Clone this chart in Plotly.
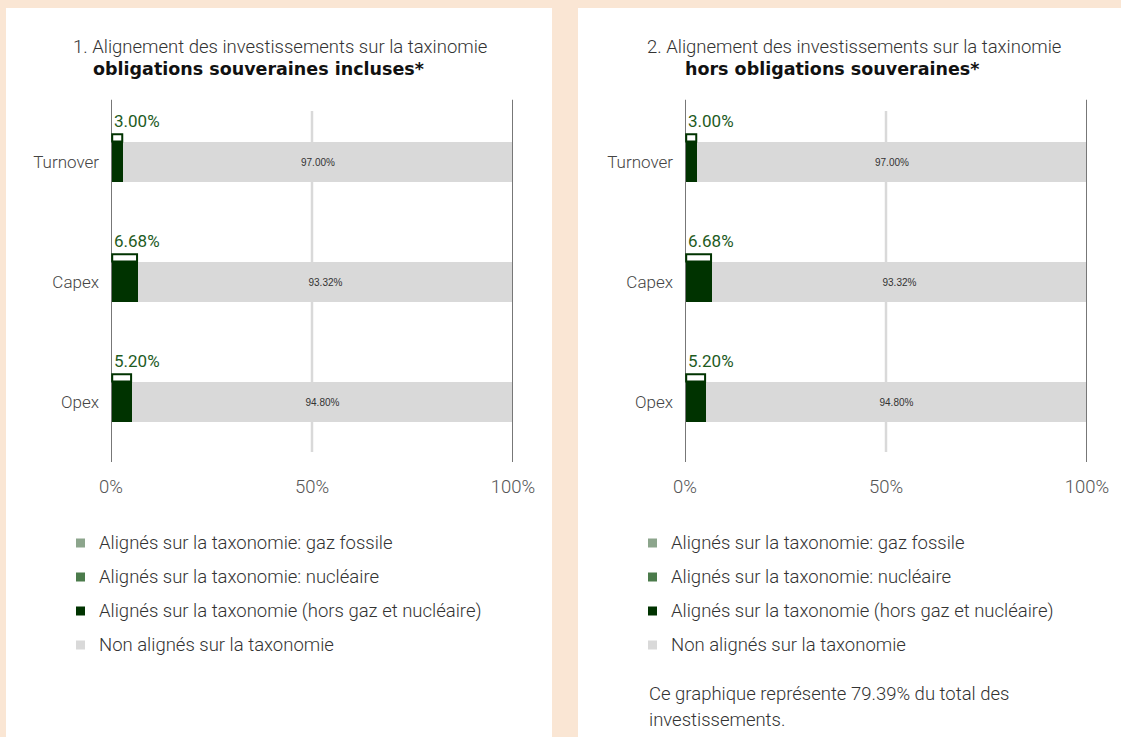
import plotly.graph_objects as go

# ---------------- data ----------------
categories = ["Turnover", "Capex", "Opex"]
gas_aligned = [0.0, 0.0, 0.0]
nuclear_aligned = [0.0, 0.0, 0.0]
aligned_ex_gas_nuclear = [3.00, 6.68, 5.20]
not_aligned = [97.00, 93.32, 94.80]
tick_values = [0, 50, 100]
tick_labels = ["0%", "50%", "100%"]

legend_labels = [
    "Alignés sur la taxonomie: gaz fossile",
    "Alignés sur la taxonomie: nucléaire",
    "Alignés sur la taxonomie (hors gaz et nucléaire)",
    "Non alignés sur la taxonomie",
]
panel_titles = [
    ("1. Alignement des investissements sur la taxinomie", "obligations souveraines incluses*"),
    ("2. Alignement des investissements sur la taxinomie", "hors obligations souveraines*"),
]
note_lines = ["Ce graphique représente 79.39% du total des", "investissements."]

# ---------------- styling ----------------
W, H = 1121, 737
PEACH = "#FAE6D4"
C_GAS = "#8ca58c"
C_NUC = "#4b7b4b"
C_ALIGN = "#003300"
C_NON = "#d9d9d9"
LABEL_GREEN = "#1e5b1e"
FONT = "Roboto"
TXT = "#333333"
FS = 18.5


def px(x):
    return x / W


def py(y):
    return 1 - y / H


fig = go.Figure()

panels = [
    dict(xa="x", ya="y", panel=(6, 552), t1c=280, t2c=258, leg_x=76),
    dict(xa="x2", ya="y2", panel=(578, 1121), t1c=854, t2c=832, leg_x=648),
]
BAR_W = 0.34

shapes = []
annotations = []

for p_i, p in enumerate(panels):
    xa, ya = p["xa"], p["ya"]
    fig.add_trace(go.Bar(y=categories, x=gas_aligned, orientation="h", marker_color=C_GAS,
                         width=BAR_W, showlegend=False, xaxis=xa, yaxis=ya, hoverinfo="skip"))
    fig.add_trace(go.Bar(y=categories, x=nuclear_aligned, orientation="h", marker_color=C_NUC,
                         width=BAR_W, showlegend=False, xaxis=xa, yaxis=ya, hoverinfo="skip"))
    fig.add_trace(go.Bar(y=categories, x=aligned_ex_gas_nuclear, orientation="h",
                         marker=dict(color=C_ALIGN, line=dict(width=0)),
                         width=BAR_W, showlegend=False, xaxis=xa, yaxis=ya, hoverinfo="skip"))
    fig.add_trace(go.Bar(y=categories, x=not_aligned, orientation="h",
                         marker=dict(color=C_NON, line=dict(width=0)),
                         width=BAR_W, showlegend=False, xaxis=xa, yaxis=ya,
                         texttemplate="%{x:.2f}%", textposition="inside", insidetextanchor="middle",
                         textangle=0, textfont=dict(family="Liberation Sans", size=10, color=TXT),
                         hoverinfo="skip"))

    # white panel
    shapes.append(dict(type="rect", xref="paper", yref="paper", layer="below",
                       x0=px(p["panel"][0]), x1=px(p["panel"][1]), y0=0, y1=py(8),
                       fillcolor="white", line=dict(width=0)))

    yd = ya + " domain"
    # boundary lines at 0 and 100, light line at 50
    for v in (0, 100):
        shapes.append(dict(type="line", xref=xa, yref=yd, x0=v, x1=v, y0=0, y1=1.006,
                           line=dict(color="#777777", width=2)))
    shapes.append(dict(type="line", xref=xa, yref=yd, x0=50, x1=50, y0=0.028, y1=0.975,
                       line=dict(color=C_NON, width=2.5), layer="below"))

    # small tabs and labels above the aligned bars
    for i, v in enumerate(aligned_ex_gas_nuclear):
        top = i - BAR_W / 2
        shapes.append(dict(type="rect", xref=xa, yref=ya, x0=0.3, x1=v - 0.2,
                           y0=top - 0.062, y1=top, fillcolor="white",
                           line=dict(color=C_ALIGN, width=2)))
        annotations.append(dict(xref=xa, yref=ya, x=0, y=i - 0.342, text=f"{v:.2f}%",
                                showarrow=False, xanchor="left", yanchor="middle", xshift=1,
                                font=dict(family=FONT, size=17, color=LABEL_GREEN)))

    # titles
    annotations.append(dict(xref="paper", yref="paper", x=px(p["t1c"]), y=py(47),
                            text=panel_titles[p_i][0], showarrow=False, xanchor="center",
                            yanchor="middle", font=dict(family=FONT, size=FS, color=TXT, weight=300)))
    annotations.append(dict(xref="paper", yref="paper", x=px(p["t2c"]), y=py(69),
                            text="<b>" + panel_titles[p_i][1] + "</b>", showarrow=False,
                            xanchor="center", yanchor="middle",
                            font=dict(family="DejaVu Sans", size=17.5, color="#111111")))

    # legend
    leg_colors = [C_GAS, C_NUC, C_ALIGN, C_NON]
    for k, (lab, col) in enumerate(zip(legend_labels, leg_colors)):
        yc = 543 + 34 * k
        shapes.append(dict(type="rect", xref="paper", yref="paper",
                           x0=px(p["leg_x"]), x1=px(p["leg_x"] + 9),
                           y0=py(yc + 4.5), y1=py(yc - 4.5), fillcolor=col, line=dict(width=0)))
        annotations.append(dict(xref="paper", yref="paper", x=px(p["leg_x"] + 21), y=py(yc),
                                text=lab, showarrow=False, xanchor="left", yanchor="middle",
                                font=dict(family=FONT, size=FS, color=TXT, weight=300)))

# note under right panel legend
for j, line in enumerate(note_lines):
    annotations.append(dict(xref="paper", yref="paper", x=px(647), y=py(694 + 26 * j),
                            text=line, showarrow=False, xanchor="left", yanchor="middle",
                            font=dict(family=FONT, size=FS, color=TXT, weight=300)))

axis_common_x = dict(range=[0, 100], showgrid=False, zeroline=False, showline=False,
                     tickvals=tick_values, ticktext=tick_labels, ticks="", automargin=False,
                     tickfont=dict(family=FONT, size=FS, color="#555555", weight=300),
                     ticklabelstandoff=11, fixedrange=True)
axis_common_y = dict(type="category", categoryorder="array", categoryarray=categories,
                     range=[2.5, -0.5], showgrid=False, zeroline=False, showline=False,
                     ticks="", automargin=False,
                     tickfont=dict(family=FONT, size=17, color="#444444", weight=300),
                     ticklabelstandoff=11, fixedrange=True)

fig.update_layout(
    width=W, height=H, autosize=False,
    margin=dict(l=0, r=0, t=0, b=0, pad=0),
    paper_bgcolor=PEACH, plot_bgcolor="rgba(0,0,0,0)",
    barmode="stack", bargap=0,
    showlegend=False,
    xaxis=dict(domain=[px(111), px(513)], anchor="y", **axis_common_x),
    yaxis=dict(domain=[py(462), py(102)], anchor="x", **axis_common_y),
    xaxis2=dict(domain=[px(685), px(1087)], anchor="y2", **axis_common_x),
    yaxis2=dict(domain=[py(462), py(102)], anchor="x2", **axis_common_y),
    shapes=shapes,
    annotations=annotations,
    uniformtext=dict(mode="show", minsize=9),
)

fig.write_html("out.html", config=dict(displayModeBar=False),
               post_script="document.body.style.margin='0';document.body.style.overflow='hidden';")
